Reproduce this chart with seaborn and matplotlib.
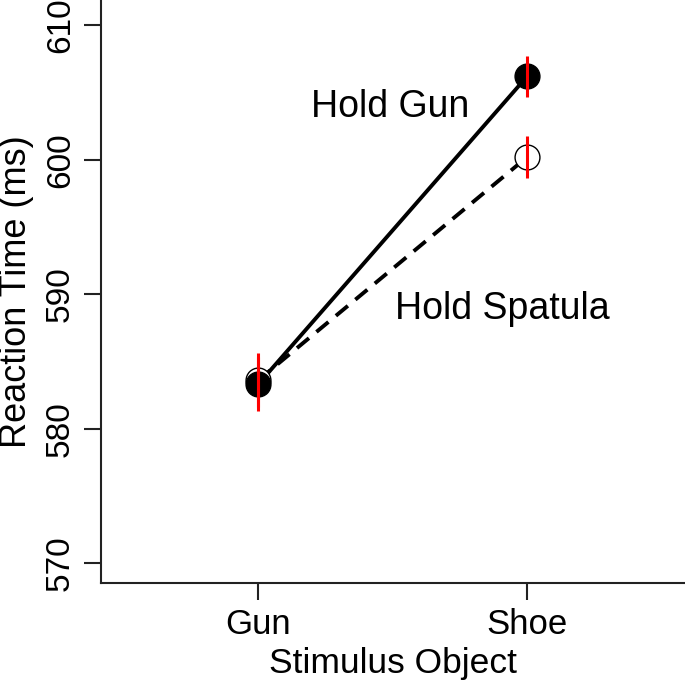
import pandas as pd
import matplotlib
matplotlib.use('Agg')
import matplotlib.pyplot as plt
import seaborn as sns

objects = ['Gun', 'Shoe']
hold_gun = [583.3, 606.2]
hold_gun_err = [2.0, 1.5]
hold_spatula = [583.6, 600.2]
hold_spatula_err = [2.0, 1.55]

df = pd.DataFrame({
    'object': objects * 2,
    'rt': hold_gun + hold_spatula,
    'err': hold_gun_err + hold_spatula_err,
    'hold': ['Hold Gun'] * 2 + ['Hold Spatula'] * 2,
})
df['pos'] = df['object'].map({o: i for i, o in enumerate(objects)})

sns.set_style('ticks')
plt.rcParams['font.family'] = ['Liberation Sans', 'DejaVu Sans']

fig = plt.figure(figsize=(6.85, 6.8), dpi=100)
ax = fig.add_axes([101 / 685, 1 - 583.3 / 680, 1 - 101 / 685, 583.3 / 680])

sns.lineplot(data=df, x='pos', y='rt', style='hold', style_order=['Hold Gun', 'Hold Spatula'],
             dashes={'Hold Gun': '', 'Hold Spatula': (4, 2.5)}, color='black', linewidth=2.8,
             legend=False, ax=ax, zorder=2)

spat = df[df['hold'] == 'Hold Spatula']
gun = df[df['hold'] == 'Hold Gun']
ax.scatter(spat['pos'], spat['rt'], s=320, facecolor='white', edgecolor='black', linewidth=1, zorder=3)
ax.scatter(gun['pos'], gun['rt'], s=320, facecolor='black', edgecolor='black', linewidth=1, zorder=4)
ax.vlines(df['pos'], df['rt'] - df['err'], df['rt'] + df['err'], color='red', linewidth=2.2, zorder=5)

ax.text(0.49, 603.9, 'Hold Gun', fontsize=27, ha='center', va='center', color='black')
ax.text(0.907, 588.9, 'Hold Spatula', fontsize=27, ha='center', va='center', color='black')

ax.set_xlim(-0.584, 1.587)
ax.set_ylim(568.51, 611.88)
ax.set_xticks(range(len(objects)))
ax.set_xticklabels(objects, fontsize=25)
ax.set_yticks([570, 580, 590, 600, 610])
ax.set_yticklabels(['570', '580', '590', '600', '610'], fontsize=24, rotation=90, va='center')
ax.set_xlabel('Stimulus Object', fontsize=25.5, labelpad=4)
ax.set_ylabel('Reaction Time (ms)', fontsize=26, labelpad=8)
ax.tick_params(length=12, width=1.5, color='#222222', labelcolor='black', pad=6)
for side in ['top', 'right']:
    ax.spines[side].set_visible(False)
for side in ['left', 'bottom']:
    ax.spines[side].set_linewidth(1.5)
    ax.spines[side].set_color('#222222')
ax.xaxis.label.set_color('black')
ax.yaxis.label.set_color('black')

fig.savefig('out.png', dpi=100)
